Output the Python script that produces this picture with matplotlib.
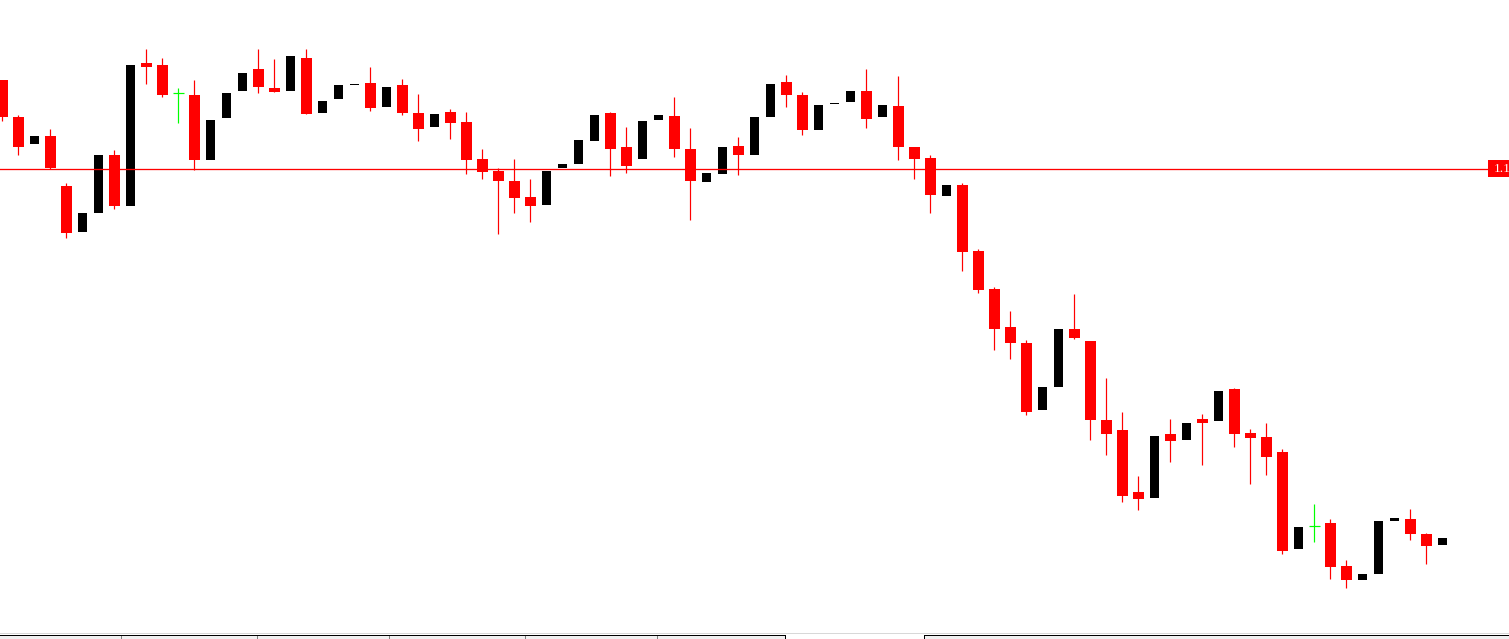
import matplotlib
matplotlib.use("Agg")
import matplotlib.pyplot as plt
import matplotlib.transforms as mtransforms
from matplotlib.patches import Rectangle
from matplotlib.lines import Line2D

# ---- data (OHLC, one bar per period) ----
opens = [1.19200, 1.18830, 1.18563, 1.18640, 1.18140, 1.17683, 1.17873, 1.18450, 1.17943, 1.19370,
         1.19350, 1.19067, 1.19050, 1.18403, 1.18823, 1.19093, 1.19310, 1.19120, 1.19093, 1.19420,
         1.18873, 1.19013, 1.19153, 1.19170, 1.18933, 1.19150, 1.18870, 1.18733, 1.18880, 1.18780,
         1.18410, 1.18290, 1.18190, 1.18030, 1.17953, 1.18320, 1.18363, 1.18593, 1.18870, 1.18530,
         1.18413, 1.18803, 1.18840, 1.18510, 1.18183, 1.18263, 1.18540, 1.18453, 1.18833, 1.19180,
         1.19050, 1.18703, 1.18963, 1.18983, 1.19090, 1.18833, 1.18940, 1.18530, 1.18420, 1.18043,
         1.18150, 1.17490, 1.17110, 1.16730, 1.16570, 1.15903, 1.16133, 1.16710, 1.16590, 1.15800,
         1.15700, 1.15083, 1.15023, 1.15660, 1.15603, 1.15810, 1.15793, 1.16110, 1.15670, 1.15630,
         1.15480, 1.14513, 1.14737, 1.14770, 1.14340, 1.14203, 1.14263, 1.14793, 1.14810, 1.14660,
         1.14553]
highs = [1.19200, 1.18850, 1.18640, 1.18710, 1.18167, 1.17870, 1.18450, 1.18500, 1.19350, 1.19510,
         1.19420, 1.19117, 1.19200, 1.18800, 1.19070, 1.19270, 1.19510, 1.19410, 1.19440, 1.19510,
         1.18990, 1.19150, 1.19163, 1.19330, 1.19130, 1.19210, 1.19060, 1.18860, 1.18910, 1.18880,
         1.18510, 1.18317, 1.18410, 1.18210, 1.18290, 1.18360, 1.18600, 1.18850, 1.18880, 1.18730,
         1.18790, 1.18850, 1.19030, 1.18720, 1.18270, 1.18530, 1.18630, 1.18830, 1.19160, 1.19250,
         1.19080, 1.18950, 1.18970, 1.19090, 1.19310, 1.18950, 1.19240, 1.18530, 1.18450, 1.18150,
         1.18170, 1.17510, 1.17130, 1.16890, 1.16600, 1.16130, 1.16710, 1.17060, 1.16590, 1.16220,
         1.15880, 1.15240, 1.15640, 1.15810, 1.15770, 1.15860, 1.16090, 1.16120, 1.15710, 1.15770,
         1.15510, 1.14730, 1.14960, 1.14810, 1.14400, 1.14260, 1.14790, 1.14820, 1.14910, 1.14670,
         1.14620]
lows = [1.18793, 1.18450, 1.18563, 1.18310, 1.17623, 1.17683, 1.17873, 1.17913, 1.17943, 1.19163,
        1.19033, 1.18773, 1.18300, 1.18403, 1.18823, 1.19093, 1.19073, 1.19083, 1.19093, 1.18863,
        1.18873, 1.19013, 1.19153, 1.18893, 1.18933, 1.18853, 1.18593, 1.18733, 1.18613, 1.18263,
        1.18213, 1.17663, 1.17873, 1.17783, 1.17953, 1.18320, 1.18363, 1.18593, 1.18243, 1.18273,
        1.18413, 1.18803, 1.18433, 1.17803, 1.18183, 1.18263, 1.18253, 1.18453, 1.18833, 1.18933,
        1.18653, 1.18703, 1.18963, 1.18983, 1.18723, 1.18833, 1.18403, 1.18213, 1.17873, 1.18043,
        1.17293, 1.17073, 1.16503, 1.16413, 1.15853, 1.15903, 1.16133, 1.16613, 1.15603, 1.15453,
        1.14983, 1.14903, 1.15023, 1.15383, 1.15603, 1.15353, 1.15793, 1.15533, 1.15163, 1.15253,
        1.14463, 1.14513, 1.14583, 1.14213, 1.14123, 1.14203, 1.14263, 1.14793, 1.14603, 1.14363,
        1.14553]
closes = [1.18833, 1.18533, 1.18640, 1.18320, 1.17673, 1.17870, 1.18450, 1.17943, 1.19350, 1.19333,
          1.19053, 1.19067, 1.18403, 1.18800, 1.19070, 1.19270, 1.19133, 1.19083, 1.19440, 1.18863,
          1.18990, 1.19150, 1.19163, 1.18923, 1.19130, 1.18873, 1.18713, 1.18860, 1.18773, 1.18403,
          1.18283, 1.18193, 1.18023, 1.17943, 1.18290, 1.18360, 1.18600, 1.18850, 1.18513, 1.18343,
          1.18790, 1.18850, 1.18513, 1.18193, 1.18270, 1.18530, 1.18453, 1.18830, 1.19160, 1.19053,
          1.18703, 1.18950, 1.18970, 1.19090, 1.18813, 1.18950, 1.18533, 1.18413, 1.18053, 1.18150,
          1.17483, 1.17103, 1.16713, 1.16573, 1.15883, 1.16130, 1.16710, 1.16623, 1.15803, 1.15663,
          1.15043, 1.15013, 1.15640, 1.15593, 1.15770, 1.15773, 1.16090, 1.15663, 1.15623, 1.15433,
          1.14493, 1.14730, 1.14737, 1.14333, 1.14203, 1.14260, 1.14790, 1.14820, 1.14663, 1.14543,
          1.14620]
hline_price = 1.18315
hline_label = "1.1"   # the visible part of the price tag at the right edge

# ---- figure ----
W, H, DPI = 1509, 639, 100
fig = plt.figure(figsize=(W / DPI, H / DPI), dpi=DPI)
fig.patch.set_facecolor("white")
ax = fig.add_axes([0, 7 / H, 1, 632 / H])
ax.set_axis_off()
ax.set_xlim(-0.14375, 94.169)
ax.set_ylim(1.1368, 1.2000)

px = 72 / DPI  # one pixel in points
n = len(opens)
RED, BLACK, GREEN = "#ff0000", "#000000", "#00ff00"
min_h = 0.0001

for i in range(n):
    o, h, l, c = opens[i], highs[i], lows[i], closes[i]
    if c == o:  # doji
        ax.vlines(i, l, h, color=GREEN, linewidth=px * 1.2, zorder=2)
        ax.hlines(c, i - 0.33, i + 0.33, color=GREEN, linewidth=px * 1.2, zorder=2)
    elif c < o:  # bearish
        ax.vlines(i, l, h, color=RED, linewidth=px * 1.2, zorder=2)
        ax.bar(i, max(o - c, min_h), bottom=c, width=0.67, color=RED, linewidth=0, zorder=3)
    else:  # bullish
        ax.bar(i, max(c - o, min_h), bottom=o, width=0.545, color=BLACK, linewidth=0, zorder=3)

ax.axhline(hline_price, color=RED, linewidth=px * 1.3, zorder=5)

# price tag at the right edge
tr = mtransforms.blended_transform_factory(fig.transFigure, ax.transData)
tag_h = 0.0017
ax.add_patch(Rectangle((1488 / W, hline_price - tag_h / 2), 1 - 1488 / W, tag_h,
                       transform=tr, facecolor=RED, edgecolor="none", zorder=6, clip_on=False))
ax.text(1493.5 / W, hline_price - 0.00004, hline_label, transform=tr, color="white",
        fontsize=9.6, family="Liberation Serif", va="center", ha="left", zorder=7)

# ---- bottom tab strip ----
def fx(x):
    return x / W

def fy(y):
    return (H - y) / H

fig.add_artist(Line2D([0, 1], [fy(632.5), fy(632.5)], color="#d8d8d8", linewidth=px, transform=fig.transFigure))
fig.add_artist(Rectangle((0, 0), fx(784.5), fy(634.5), facecolor="#f0f0f0", edgecolor="none", transform=fig.transFigure))
fig.add_artist(Rectangle((fx(923.5), 0), 1 - fx(923.5), fy(634.5), facecolor="#f0f0f0", edgecolor="none", transform=fig.transFigure))
fig.add_artist(Line2D([0, fx(784.5)], [fy(634.5), fy(634.5)], color="black", linewidth=px, transform=fig.transFigure))
fig.add_artist(Line2D([fx(784.5), fx(784.5)], [0, fy(634.5)], color="black", linewidth=px, transform=fig.transFigure))
fig.add_artist(Line2D([fx(923.5), 1], [fy(634.5), fy(634.5)], color="black", linewidth=px, transform=fig.transFigure))
fig.add_artist(Line2D([fx(923.5), fx(923.5)], [0, fy(634.5)], color="black", linewidth=px, transform=fig.transFigure))
for xd in [120.5, 256.5, 388.5, 524.5, 656.5]:
    fig.add_artist(Line2D([fx(xd), fx(xd)], [0, fy(635.5)], color="#808080", linewidth=px, transform=fig.transFigure))

fig.savefig("out.png", dpi=DPI, facecolor="white")
